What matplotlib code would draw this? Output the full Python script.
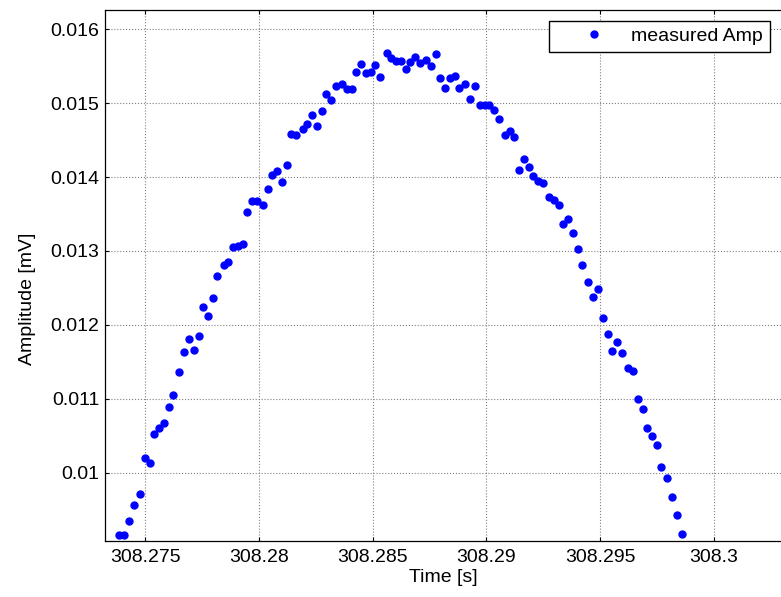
import matplotlib
matplotlib.use('Agg')
import matplotlib.pyplot as plt

plt.rcParams['font.family'] = ['Liberation Sans', 'DejaVu Sans']

# measured samples (time in s, amplitude in mV)
time_s = [308.27384, 308.27408, 308.27430, 308.27449, 308.27477, 308.27499, 308.27519, 308.27540,
          308.27560, 308.27581, 308.27603, 308.27623, 308.27650, 308.27672, 308.27692, 308.27713,
          308.27735, 308.27755, 308.27776, 308.27798, 308.27817, 308.27845, 308.27865, 308.27886,
          308.27906, 308.27928, 308.27949, 308.27969, 308.27990, 308.28018, 308.28040, 308.28058,
          308.28080, 308.28101, 308.28123, 308.28142, 308.28164, 308.28192, 308.28212, 308.28233,
          308.28255, 308.28276, 308.28296, 308.28317, 308.28337, 308.28366, 308.28387, 308.28409,
          308.28428, 308.28449, 308.28469, 308.28491, 308.28511, 308.28533, 308.28562, 308.28582,
          308.28602, 308.28623, 308.28645, 308.28665, 308.28686, 308.28707, 308.28734, 308.28755,
          308.28777, 308.28796, 308.28818, 308.28840, 308.28861, 308.28880, 308.28907, 308.28929,
          308.28950, 308.28972, 308.28993, 308.29013, 308.29033, 308.29055, 308.29081, 308.29103,
          308.29123, 308.29143, 308.29164, 308.29186, 308.29206, 308.29227, 308.29248, 308.29275,
          308.29297, 308.29318, 308.29338, 308.29360, 308.29381, 308.29401, 308.29422, 308.29448,
          308.29470, 308.29491, 308.29511, 308.29533, 308.29554, 308.29574, 308.29595, 308.29623,
          308.29645, 308.29665, 308.29687, 308.29706, 308.29728, 308.29749, 308.29769, 308.29796,
          308.29818, 308.29837, 308.29859]

amp_mv = [0.009158, 0.009158, 0.009356, 0.009563, 0.009716, 0.010208, 0.010141, 0.010527,
          0.010614, 0.010676, 0.010888, 0.011060, 0.011362, 0.011636, 0.011808, 0.011659,
          0.011853, 0.012237, 0.012128, 0.012362, 0.012664, 0.012809, 0.012853, 0.013048,
          0.013070, 0.013093, 0.013521, 0.013670, 0.013670, 0.013624, 0.013836, 0.014030,
          0.014076, 0.013927, 0.014161, 0.014584, 0.014563, 0.014652, 0.014715, 0.014841,
          0.014692, 0.014887, 0.015121, 0.015036, 0.015229, 0.015252, 0.015185, 0.015185,
          0.015423, 0.015527, 0.015401, 0.015419, 0.015509, 0.015355, 0.015680, 0.015612,
          0.015567, 0.015571, 0.015463, 0.015550, 0.015617, 0.015540, 0.015577, 0.015504,
          0.015658, 0.015333, 0.015206, 0.015337, 0.015360, 0.015206, 0.015252, 0.015053,
          0.015229, 0.014972, 0.014972, 0.014972, 0.014905, 0.014779, 0.014567, 0.014617,
          0.014544, 0.014097, 0.014246, 0.014138, 0.014012, 0.013945, 0.013922, 0.013732,
          0.013692, 0.013624, 0.013367, 0.013431, 0.013241, 0.013029, 0.012813, 0.012579,
          0.012372, 0.012491, 0.012088, 0.011872, 0.011642, 0.011767, 0.011615, 0.011425,
          0.011379, 0.010997, 0.010865, 0.010614, 0.010506, 0.010379, 0.010077, 0.009928,
          0.009671, 0.009437, 0.009180]

x_ticks = [308.275, 308.28, 308.285, 308.29, 308.295, 308.3]
x_tick_labels = ['308.275', '308.28', '308.285', '308.29', '308.295', '308.3']
y_ticks = [0.01, 0.011, 0.012, 0.013, 0.014, 0.015, 0.016]
y_tick_labels = ['0.01', '0.011', '0.012', '0.013', '0.014', '0.015', '0.016']

fig = plt.figure(figsize=(7.81, 5.97), dpi=100)
ax = fig.add_axes([0.1344, 0.0938, 0.8656, 0.8894])

ax.plot(time_s, amp_mv, 'o', color='#0000ff', markersize=5, label='measured Amp')

ax.set_xlim(308.27323, 308.30295)
ax.set_ylim(0.00908, 0.016257)
ax.set_xticks(x_ticks)
ax.set_xticklabels(x_tick_labels)
ax.set_yticks(y_ticks)
ax.set_yticklabels(y_tick_labels)

ax.grid(True, color='#808080', linestyle=':', linewidth=0.8)
ax.tick_params(direction='in', top=True, right=False, length=3, width=0.8, labelsize=14)
ax.tick_params(axis='x', pad=6)
ax.tick_params(axis='y', pad=4)
ax.spines['right'].set_visible(False)
for s in ['left', 'top', 'bottom']:
    ax.spines[s].set_linewidth(0.9)

ax.set_xlabel('Time [s]', fontsize=14, labelpad=2)
ax.set_ylabel('Amplitude [mV]', fontsize=14)
ax.yaxis.set_label_coords(0.046, 0.5, transform=fig.transFigure)

leg = ax.legend(loc='upper left', bbox_to_anchor=(0.7033, 0.9653),
                bbox_transform=fig.transFigure, fontsize=14, fancybox=False,
                framealpha=1, edgecolor='black', borderpad=0.35,
                handlelength=3.87, handletextpad=0.0, borderaxespad=0)
leg.get_frame().set_linewidth(1.0)

plt.savefig('out.png', dpi=100)
plt.close()
